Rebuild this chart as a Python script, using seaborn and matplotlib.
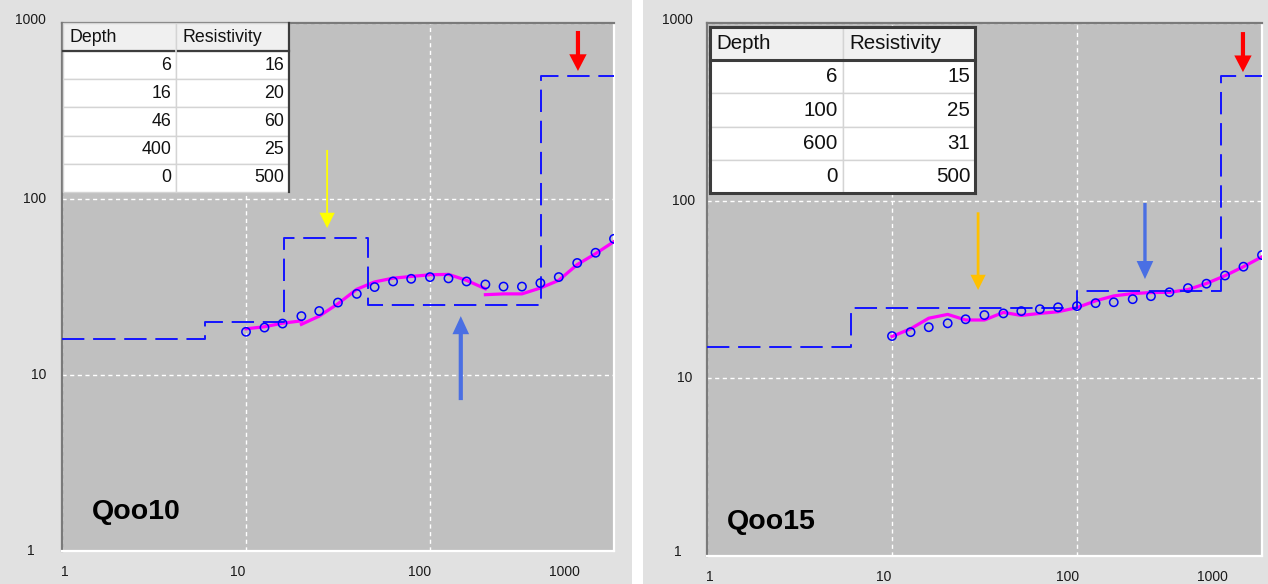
import matplotlib
matplotlib.use("Agg")
import matplotlib.pyplot as plt
import seaborn as sns
import pandas as pd
from matplotlib.patches import Rectangle
from matplotlib.lines import Line2D
from matplotlib.transforms import ScaledTranslation

# ---------------- data ----------------
ab2 = [10, 12.6, 15.8, 20, 25, 31.6, 40, 50, 63, 79, 100,
       126, 158, 200, 251, 316, 398, 501, 631, 794, 1000]

# Qoo10
q10_depth = [6, 16, 46, 400, 0]
q10_res = [16, 20, 60, 25, 500]
q10_obs = [17.6, 18.6, 19.6, 21.6, 23.1, 25.8, 28.9, 31.6, 34.0, 35.2, 36.0,
           35.4, 34.0, 32.7, 31.8, 31.8, 33.3, 36.0, 43.3, 49.5, 59.4]
q10_fit1_x = [10, 12.6, 15.8, 20]
q10_fit1_y = [18.3, 18.8, 19.7, 20.3]
q10_fit2_x = [20, 25, 31.6, 40, 50, 63, 79, 100, 126, 158, 200]
q10_fit2_y = [19.4, 21.6, 25.4, 30.7, 33.8, 35.5, 36.3, 37.1, 37.3, 34.5, 30.9]
q10_fit3_x = [200, 251, 316, 398, 501, 631, 794, 1000]
q10_fit3_y = [28.6, 28.9, 28.9, 31.2, 34.5, 42.4, 48.9, 57.3]

# Qoo15
q15_depth = [6, 100, 600, 0]
q15_res = [15, 25, 31, 500]
q15_obs = [17.3, 18.2, 19.4, 20.4, 21.5, 22.7, 23.2, 23.9, 24.5, 25.1, 25.5,
           26.5, 26.8, 27.9, 29.0, 30.5, 32.2, 34.1, 37.9, 42.5, 49.4]
q15_fit_x = ab2
q15_fit_y = [17.2, 19.0, 21.8, 22.9, 21.3, 21.3, 23.5, 22.6, 23.2, 23.7, 25.0,
             27.3, 29.1, 30.0, 30.4, 30.5, 31.6, 34.2, 37.8, 42.5, 48.3]

tick_values = [1, 10, 100, 1000]
tick_labels = ["1", "10", "100", "1000"]
table_cols = ["Depth", "Resistivity"]
panel_names = ["Qoo10", "Qoo15"]

# arrows: x, y_tail, y_tip
q10_arrow_x = [27.6, 147, 637]
q10_arrow_tail = [190, 7.2, 901]
q10_arrow_tip = [68.4, 21.6, 534]
q15_arrow_x = [29.2, 233, 789]
q15_arrow_tail = [86, 97, 889]
q15_arrow_tip = [31.4, 36.2, 529]

# ---------------- styles ----------------
arrow_colors_10 = ["#ffff00", "#4a6fe3", "#ff0000"]
arrow_colors_15 = ["#ffc000", "#4a6fe3", "#ff0000"]
arrow_w_10 = [1.3, 3.0, 3.0]
arrow_w_15 = [2.0, 2.4, 3.0]
arrow_hw = [11, 12, 12.5]
arrow_hl = [11, 13, 12]

BG_PLOT = "#c0c0c0"
BG_PANEL = "#e1e1e1"
FONT = "Liberation Sans"

W, H = 1268, 584
fig = plt.figure(figsize=(W / 100, H / 100), dpi=100)
fig.patch.set_facecolor("white")
fig.patches.append(Rectangle((0, 0), 632 / W, 1, transform=fig.transFigure,
                             facecolor=BG_PANEL, edgecolor="none", zorder=-10))
fig.patches.append(Rectangle((643 / W, 0), (W - 643) / W, 1, transform=fig.transFigure,
                             facecolor=BG_PANEL, edgecolor="none", zorder=-10))

ax1 = fig.add_axes([62 / W, (H - 551) / H, 552 / W, 528 / H])
ax2 = fig.add_axes([707 / W, (H - 556) / H, 555 / W, 533 / H])


def px(fig, dx, dy):
    return ScaledTranslation(dx / 100, dy / 100, fig.dpi_scale_trans)


def draw_panel(ax, name, depth, res, obs, fit_segs, ax_x, ax_tail, ax_tip,
               acolors, aw, table_bbox, table_fs, pad_l, pad_r, dark_frame,
               name_pos, xlab_dx, ylab_dx, ylab_dy):
    ax.set_facecolor(BG_PLOT)
    ax.set_xscale("log")
    ax.set_yscale("log")
    xmin, xmax = tick_values[0], tick_values[-1]
    ax.set_xlim(xmin, xmax)
    ax.set_ylim(xmin, xmax)

    # fitted curve (segments)
    frames = []
    for i, (sx, sy) in enumerate(fit_segs):
        frames.append(pd.DataFrame({"x": sx, "y": sy, "seg": i}))
    df = pd.concat(frames, ignore_index=True)
    sns.lineplot(data=df, x="x", y="y", units="seg", estimator=None, sort=False,
                 color="#ff00ff", lw=2.3, ax=ax, zorder=3)

    # observed data
    sns.scatterplot(x=ab2, y=obs, marker="o", s=36, facecolor="none",
                    edgecolor="#0000ff", linewidth=1.1, ax=ax, zorder=4)

    # layered model (step)
    bx = [xmin] + depth[:-1] + [xmax]
    by = res + [res[-1]]
    sns.lineplot(x=bx, y=by, estimator=None, sort=False, drawstyle="steps-post",
                 color="#1414ff", lw=1.4, linestyle=(0, (11.5, 4.5)), ax=ax, zorder=3.5)

    ax.set_xlim(xmin, xmax)
    ax.set_ylim(xmin, xmax)
    ax.set_xlabel("")
    ax.set_ylabel("")
    ax.set_xticks(tick_values)
    ax.set_yticks(tick_values)
    ax.minorticks_off()
    ax.set_xticklabels([])
    ax.set_yticklabels([])
    ax.tick_params(which="both", length=0)
    ax.grid(True, which="major", color="white", lw=1.0, ls=(0, (3, 2.5)))
    ax.set_axisbelow(True)
    for s in ["left", "top"]:
        ax.spines[s].set_color("#7a7a7a")
        ax.spines[s].set_linewidth(1.6)
    for s in ["right", "bottom"]:
        ax.spines[s].set_color("white")
        ax.spines[s].set_linewidth(1.6)

    # arrows
    for x, yt, yh, c, w, hw, hl in zip(ax_x, ax_tail, ax_tip, acolors, aw, arrow_hw, arrow_hl):
        ax.annotate("", xy=(x, yh), xytext=(x, yt),
                    arrowprops=dict(facecolor=c, edgecolor="none", width=w,
                                    headwidth=hw, headlength=hl, shrink=0),
                    zorder=6)

    # table
    rows = [[str(d), str(r)] for d, r in zip(depth, res)]
    tb = ax.table(cellText=rows, colLabels=table_cols, cellLoc="right",
                  colLoc="left", bbox=table_bbox)
    tb.set_zorder(7)
    tb.auto_set_font_size(False)
    tb.set_fontsize(table_fs)
    for (r, c), cell in tb.get_celld().items():
        cell.set_edgecolor("#d4d4d4")
        cell.set_linewidth(1.0)
        cell.set_facecolor("#f0f0f0" if r == 0 else "white")
        cell.PAD = pad_l if r == 0 else pad_r
        cell.get_text().set_fontfamily(FONT)
        cell.get_text().set_color("#111111")
    x0, y0, tw, th = table_bbox
    nrow = len(rows) + 1
    yh = y0 + th * (nrow - 1) / nrow
    xm = x0 + tw / 2
    dark = "#3c3c3c"
    lines = [
        ([x0, xm - 0.003], [yh, yh]),
        ([xm + 0.003, x0 + tw], [yh, yh]),
        ([x0 + tw, x0 + tw], [y0, y0 + th]),
    ]
    if dark_frame:
        lines += [([x0, x0 + tw], [y0, y0]), ([x0, x0], [y0, y0 + th]),
                  ([x0, x0 + tw], [y0 + th, y0 + th])]
    for lx, ly in lines:
        ax.add_line(Line2D(lx, ly, transform=ax.transAxes, color=dark,
                           lw=2.2 if dark_frame else 1.6, zorder=8, clip_on=False))

    # panel name
    ax.text(name_pos[0], name_pos[1], name, transform=ax.transAxes,
            fontsize=20.5, fontweight="bold", family=FONT, va="center",
            ha="left", color="black", zorder=8)

    # tick labels as text
    tx = ax.get_xaxis_transform()
    for v, lab, dx in zip(tick_values, tick_labels, xlab_dx):
        ax.text(v, 0, lab, transform=tx + px(fig, dx, -21), ha="center",
                va="center", fontsize=10, family=FONT, color="#1a1a1a",
                clip_on=False)
    ty = ax.get_yaxis_transform()
    for v, lab, dx, dy in zip(tick_values, tick_labels, ylab_dx, ylab_dy):
        ax.text(0, v, lab, transform=ty + px(fig, dx, dy), ha="center",
                va="center", fontsize=10, family=FONT, color="#1a1a1a",
                clip_on=False)


draw_panel(ax1, panel_names[0], q10_depth, q10_res, q10_obs,
           [(q10_fit1_x, q10_fit1_y), (q10_fit2_x, q10_fit2_y), (q10_fit3_x, q10_fit3_y)],
           q10_arrow_x, q10_arrow_tail, q10_arrow_tip, arrow_colors_10, arrow_w_10,
           [0.002, 0.680, 0.409, 0.320], 12.8, 0.06, 0.04, False,
           (0.054, 0.074), [3, -8, -10, -50], [-31, -23, -27, -32], [0, 0, 0, 3])

draw_panel(ax2, panel_names[1], q15_depth, q15_res, q15_obs,
           [(q15_fit_x, q15_fit_y)],
           q15_arrow_x, q15_arrow_tail, q15_arrow_tip, arrow_colors_15, arrow_w_15,
           [0.0054, 0.681, 0.4775, 0.3114], 14.8, 0.05, 0.035, True,
           (0.036, 0.064), [3, -8, -9, -50], [-29, -22, -23, -30], [4, 0, 0, 3])

fig.savefig("out.png", dpi=100)
